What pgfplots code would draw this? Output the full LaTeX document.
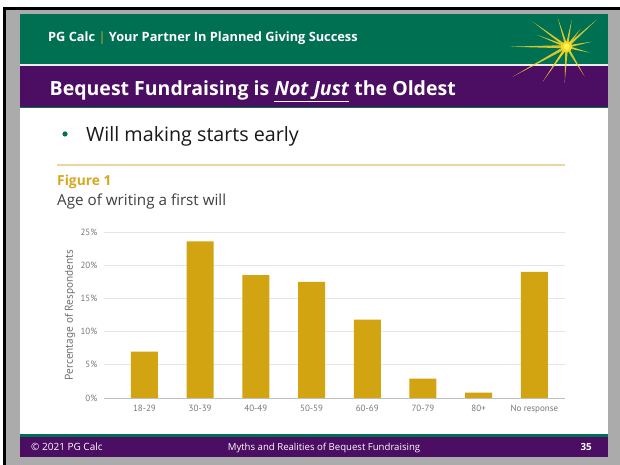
\documentclass[border=0pt]{standalone}
\usepackage{pgfplots}
\pgfplotsset{compat=1.18}
\usetikzlibrary{calc}
\usepackage{fontspec}
\setmainfont{Open Sans}
\newfontfamily\figfont{PT Sans}
\definecolor{bggray}{RGB}{171,171,171}
\definecolor{hdgreen}{RGB}{0,112,83}
\definecolor{hdpurple}{RGB}{75,14,99}
\definecolor{bargold}{RGB}{210,164,18}
\definecolor{figgold}{RGB}{214,168,30}
\definecolor{linegold}{RGB}{232,216,160}
\definecolor{starY}{RGB}{250,215,40}
\definecolor{ticktext}{RGB}{120,120,120}
\begin{document}
\begin{tikzpicture}[x=1pt,y=1pt]
% background and frame
\fill[white] (0,0) rectangle (620,465);
\fill[black] (3,0) rectangle (620,458);
\fill[bggray] (6,0) rectangle (620,455);
\fill[white] (20,8) rectangle (608,451);
% header
\fill[hdgreen] (20,401) rectangle (608,451);
\fill[white!85!gray] (20,399) rectangle (608,401);
\fill[hdpurple] (20,358) rectangle (608,399);
\fill[hdgreen] (20,357) rectangle (608,358);
% footer
\fill[hdgreen] (20,28) rectangle (608,30.5);
\fill[hdpurple] (20,8) rectangle (608,28);
% star logo
\begin{scope}[shift={(566.7,418.3)}]
\foreach \ex/\ey/\w in {-57/0/1.6, -34/25/1.4, -9/29/1.3, 5/27/1.3, 30/27/1.4, 25/5/1.3, 23/-6/1.3, 18/-30/1.4, -2/-36/1.4, -24/-35/1.4, -54/-30/1.5, -30/12/1.2, 14/18/1.1, -14/-20/1.1}{
  \fill[starY, opacity=0.85] (0,0) -- ($(0,0)!\w pt!90:(\ex,\ey)$) -- (\ex,\ey) -- ($(0,0)!\w pt!-90:(\ex,\ey)$) -- cycle;
}
\fill[starY] (0,0) circle (5.5);
\fill[yellow!70!white] (0,0) circle (3);
\end{scope}
% header texts
\node[anchor=base west, text=white, font=\bfseries\fontsize{12.8}{15}\selectfont, inner sep=0] at (48,423.3) {PG Calc {\mdseries\textcolor{figgold}{|}} Your Partner In Planned Giving Success};
\node[anchor=base west, text=white, font=\bfseries\fontsize{19.5}{23}\selectfont, inner sep=0] at (49.5,369) {Bequest Fundraising is \underline{\textit{Not Just}} the Oldest};
% bullet
\fill[hdgreen] (65,331) circle (2.6);
\node[anchor=base west, text=black!90, font=\fontsize{19.7}{23}\selectfont, inner sep=0] at (86,323.3) {Will making starts early};
% figure header
\draw[linegold, line width=1.2pt] (57,300) -- (565,300);
\node[anchor=base west, text=figgold, font=\bfseries\fontsize{13.8}{15}\selectfont, inner sep=0] at (57,279.5) {Figure 1};
\node[anchor=base west, text=black!75, font=\fontsize{15.2}{17}\selectfont, inner sep=0] at (57,259.5) {Age of writing a first will};
\node[rotate=90, text=black!55, font=\figfont\fontsize{11.3}{13}\selectfont, inner sep=0] at (70,150) {Percentage of Respondents};
% chart
\begin{axis}[
  at={(103.8pt,67pt)}, anchor=south west,
  scale only axis, width=461.2pt, height=166pt,
  xmin=-0.73, xmax=7.55, ymin=0, ymax=25,
  ybar, bar width=27pt,
  xtick={0,1,2,3,4,5,6,7},
  xticklabels={18-29,30-39,40-49,50-59,60-69,70-79,80+,No response},
  ytick={0,5,10,15,20,25},
  yticklabel={\pgfmathprintnumber{\tick}\%},
  axis x line*=bottom, axis y line*=left,
  x axis line style={draw=black!25, line width=0.8pt},
  y axis line style={draw=none},
  major tick length=0pt,
  ymajorgrids, grid style={draw=black!10, line width=0.6pt},
  tick label style={font=\figfont\fontsize{9}{10}\selectfont, text=ticktext},
  yticklabel style={xshift=-3pt},
  xticklabel style={yshift=-4pt},
  /pgf/number format/assume math mode=true,
  clip=false,
]
\addplot[fill=bargold, draw=none] coordinates {(0,7.0) (1,23.6) (2,18.5) (3,17.5) (4,11.8) (5,2.9) (6,0.8) (7,19.0)};
\end{axis}
% footer texts
\node[anchor=base west, text=white, font=\fontsize{10}{11}\selectfont, inner sep=0] at (31,14.5) {© 2021 PG Calc};
\node[anchor=base, text=white, font=\fontsize{9.6}{11}\selectfont, inner sep=0] at (324,14.5) {Myths and Realities of Bequest Fundraising};
\node[anchor=base east, text=white, font=\bfseries\fontsize{9.8}{11}\selectfont, inner sep=0] at (592,14.5) {35};
\end{tikzpicture}
\end{document}
